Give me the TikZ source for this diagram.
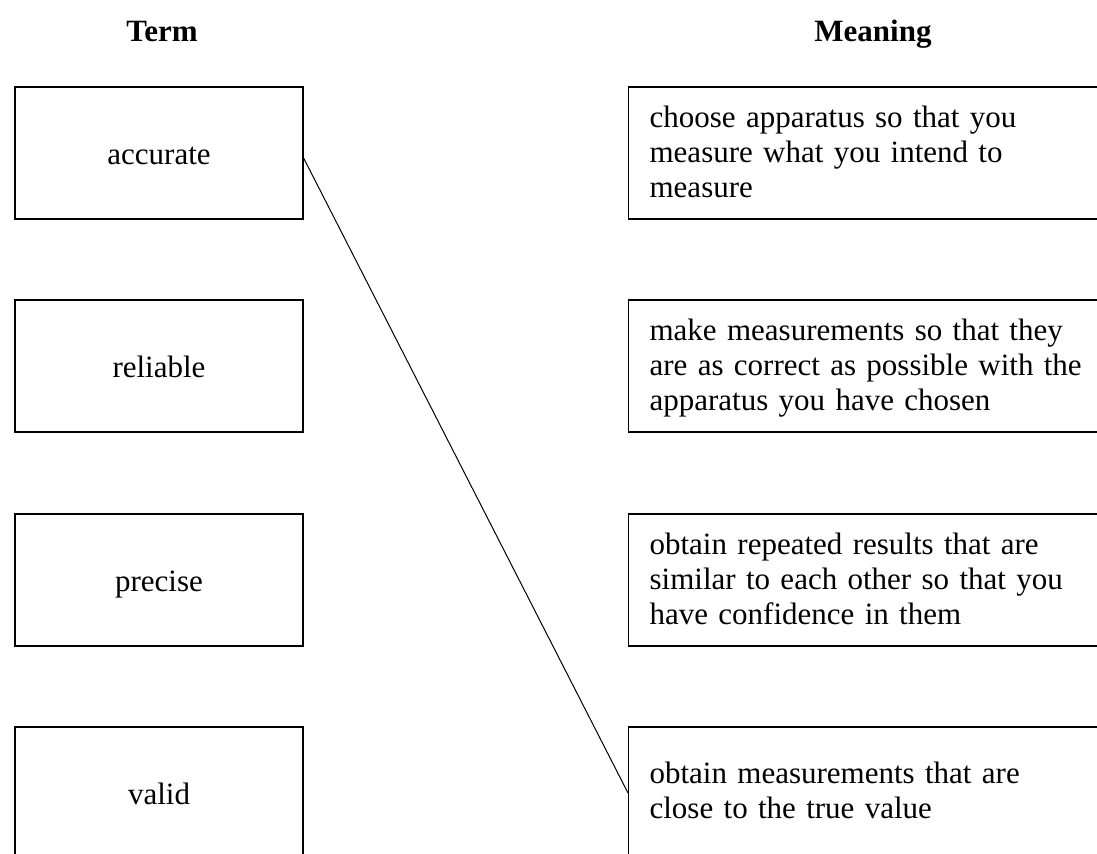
\documentclass[tikz,border=0pt]{standalone}
\usepackage{fontspec}
\setmainfont{Liberation Serif}
\usetikzlibrary{positioning}

\tikzset{
  txt/.style={font=\fontsize{15.5}{17.5}\selectfont},
  termbox/.style={txt, draw, line width=.6pt, minimum width=144pt, minimum height=66pt, inner sep=0pt, text height=13pt, text depth=2pt},
  meanbox/.style={txt, draw, line width=.6pt, anchor=west, minimum height=66pt, text width=220pt, inner xsep=10.5pt, inner ysep=0pt, align=left, text height=10pt, text depth=35.5pt}
}

\begin{document}
\begin{tikzpicture}[x=.5pt, y=-.5pt]
\useasboundingbox (0,0) rectangle (1097,853);
\clip (0,0) rectangle (1097,853);
\node[txt, font=\fontsize{15.5}{17.5}\selectfont\bfseries, anchor=base] (term) at (162,41) {Term};
\node[txt, font=\fontsize{15.5}{17.5}\selectfont\bfseries, anchor=base] (meaning) at (873,41) {Meaning};
% terms
\node[termbox] (acc) at (159,153) {accurate};
\node[termbox] (rel) at (159,366) {reliable};
\node[termbox] (pre) at (159,580) {precise};
\node[termbox] (val) at (159,793) {valid};
% meanings
\node[meanbox] (m1) at (628,153) {choose apparatus so that you\\measure what you intend to\\measure};
\node[meanbox] (m2) at (628,366) {make measurements so that they\\are as correct as possible with the\\apparatus you have chosen};
\node[meanbox] (m3) at (628,580) {obtain repeated results that are\\similar to each other so that you\\have confidence in them};
\node[meanbox, text depth=20pt] (m4) at (628,793) {obtain measurements that are\\close to the true value};
\draw[line width=.5pt] ([yshift=-2.5pt]acc.east) -- (m4.west);
\end{tikzpicture}
\end{document}
